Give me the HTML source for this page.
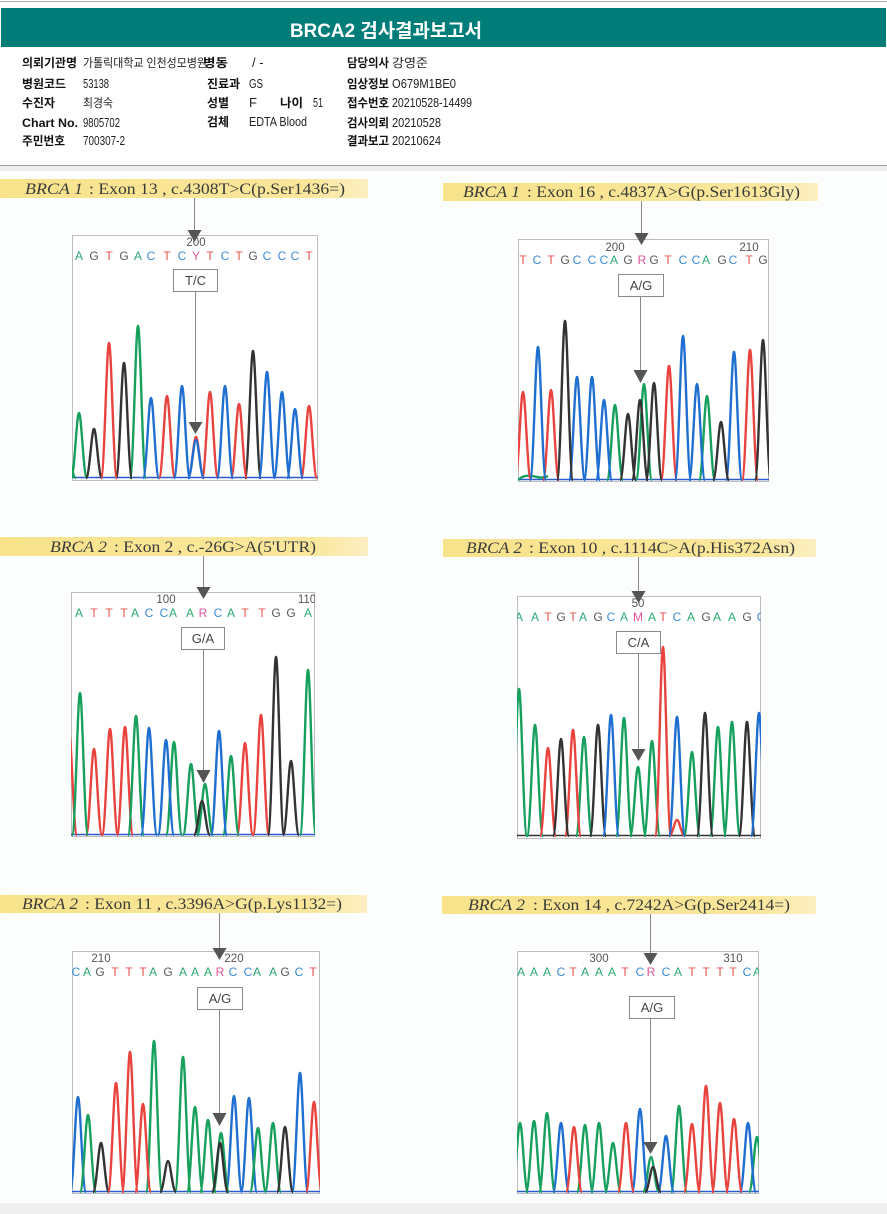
<!DOCTYPE html>
<html><head><meta charset="utf-8">
<style>
html,body{margin:0;padding:0;background:#fff;}
body{width:887px;height:1214px;overflow:hidden;}
svg{display:block;}
.kl{font-family:"Liberation Sans","Noto Sans CJK KR",sans-serif;font-size:12px;font-weight:bold;fill:#111;}
.kv{font-family:"Liberation Sans","Noto Sans CJK KR",sans-serif;font-size:12px;fill:#222;}
.kn{font-family:"Liberation Sans",sans-serif;font-size:13px;fill:#222;}
.lb{font-family:"Liberation Serif","Noto Serif CJK SC",serif;font-size:16px;fill:#3a3a3a;}
.lbi{font-style:italic;}
.seq{font-family:"Liberation Sans",sans-serif;font-size:12px;text-anchor:middle;}
.num{font-family:"Liberation Sans",sans-serif;font-size:11.5px;fill:#555;text-anchor:middle;}
.co{font-family:"Liberation Sans",sans-serif;font-size:13px;fill:#444;text-anchor:middle;}
.a{fill:#2aa870}.c{fill:#3a8ad6}.g{fill:#5a5a5a}.t{fill:#e4534e}.r{fill:#e0569a}
.pg{fill:none;stroke:#17a05d;stroke-width:2.4;stroke-linejoin:round}
.pr{fill:none;stroke:#e8433f;stroke-width:2.4;stroke-linejoin:round}
.pb{fill:none;stroke:#1f6fd1;stroke-width:2.4;stroke-linejoin:round}
.pk{fill:none;stroke:#333;stroke-width:2.4;stroke-linejoin:round}
.box{fill:#fff;stroke:#bdbdbd;stroke-width:1}
.cb{fill:#fff;stroke:#8a8a8a;stroke-width:1}
.ln{stroke:#888;stroke-width:1}
.tri{fill:#555}
</style></head>
<body>
<svg width="887" height="1214" viewBox="0 0 887 1214" xmlns="http://www.w3.org/2000/svg">
<defs>
<linearGradient id="yb" x1="0" x2="1" y1="0" y2="0">
<stop offset="0" stop-color="#f8e38c"/><stop offset="0.85" stop-color="#fae79c"/><stop offset="1" stop-color="#fcefc2"/>
</linearGradient>
<clipPath id="c1"><rect x="72" y="235" width="246" height="246"/></clipPath>
<clipPath id="c2"><rect x="518" y="239" width="251" height="243"/></clipPath>
<clipPath id="c3"><rect x="71" y="592" width="244" height="245"/></clipPath>
<clipPath id="c4"><rect x="517" y="596" width="244" height="243"/></clipPath>
<clipPath id="c5"><rect x="72" y="951" width="248" height="243"/></clipPath>
<clipPath id="c6"><rect x="517" y="951" width="242" height="243"/></clipPath>
</defs>

<!-- header -->
<rect x="0" y="0" width="887" height="166" fill="#fff"/>
<line x1="0" y1="1.5" x2="887" y2="1.5" stroke="#b0b0b0" stroke-width="1"/>
<rect x="1" y="8" width="885" height="39" fill="#007d78"/>
<text x="290" y="37" textLength="192" lengthAdjust="spacingAndGlyphs" style="font-family:'Liberation Sans','Noto Sans CJK KR',sans-serif;font-size:19px;font-weight:bold;fill:#fff">BRCA2 검사결과보고서</text>

<text class="kl" x="22" y="67" textLength="55" lengthAdjust="spacingAndGlyphs">의뢰기관명</text>
<text class="kv" x="83" y="67" textLength="124" lengthAdjust="spacingAndGlyphs">가톨릭대학교 인천성모병원</text>
<text class="kl" x="203" y="67" textLength="25" lengthAdjust="spacingAndGlyphs">병동</text>
<text class="kn" x="252" y="67">/ -</text>
<text class="kl" x="347" y="67" textLength="42" lengthAdjust="spacingAndGlyphs">담당의사</text>
<text class="kv" x="392" y="67" textLength="36" lengthAdjust="spacingAndGlyphs">강영준</text>

<text class="kl" x="22" y="88" textLength="44" lengthAdjust="spacingAndGlyphs">병원코드</text>
<text class="kn" x="83" y="88" textLength="26" lengthAdjust="spacingAndGlyphs">53138</text>
<text class="kl" x="207" y="88" textLength="33" lengthAdjust="spacingAndGlyphs">진료과</text>
<text class="kn" x="249" y="88" textLength="14" lengthAdjust="spacingAndGlyphs">GS</text>
<text class="kl" x="347" y="88" textLength="42" lengthAdjust="spacingAndGlyphs">임상정보</text>
<text class="kn" x="392" y="88" textLength="64" lengthAdjust="spacingAndGlyphs">O679M1BE0</text>

<text class="kl" x="22" y="107" textLength="33" lengthAdjust="spacingAndGlyphs">수진자</text>
<text class="kv" x="83" y="107" textLength="30" lengthAdjust="spacingAndGlyphs">최경숙</text>
<text class="kl" x="207" y="107" textLength="22" lengthAdjust="spacingAndGlyphs">성별</text>
<text class="kn" x="249" y="107">F</text>
<text class="kl" x="280" y="107" textLength="23" lengthAdjust="spacingAndGlyphs">나이</text>
<text class="kn" x="313" y="107" textLength="10" lengthAdjust="spacingAndGlyphs">51</text>
<text class="kl" x="347" y="107" textLength="42" lengthAdjust="spacingAndGlyphs">접수번호</text>
<text class="kn" x="392" y="107" textLength="80" lengthAdjust="spacingAndGlyphs">20210528-14499</text>

<text class="kl" x="22" y="127" textLength="56" lengthAdjust="spacingAndGlyphs">Chart No.</text>
<text class="kn" x="83" y="127" textLength="37" lengthAdjust="spacingAndGlyphs">9805702</text>
<text class="kl" x="207" y="126" textLength="22" lengthAdjust="spacingAndGlyphs">검체</text>
<text class="kn" x="249" y="126" textLength="58" lengthAdjust="spacingAndGlyphs">EDTA Blood</text>
<text class="kl" x="347" y="127" textLength="42" lengthAdjust="spacingAndGlyphs">검사의뢰</text>
<text class="kn" x="392" y="127" textLength="49" lengthAdjust="spacingAndGlyphs">20210528</text>

<text class="kl" x="22" y="145" textLength="43" lengthAdjust="spacingAndGlyphs">주민번호</text>
<text class="kn" x="83" y="145" textLength="42" lengthAdjust="spacingAndGlyphs">700307-2</text>
<text class="kl" x="347" y="145" textLength="42" lengthAdjust="spacingAndGlyphs">결과보고</text>
<text class="kn" x="392" y="145" textLength="49" lengthAdjust="spacingAndGlyphs">20210624</text>

<line x1="0" y1="165.5" x2="887" y2="165.5" stroke="#a0a0a0" stroke-width="1"/>
<rect x="0" y="166" width="887" height="5" fill="#eeeeee"/>
<rect x="0" y="171" width="887" height="1032" fill="#fcfdfd"/>
<rect x="0" y="1203" width="887" height="11" fill="#efefef"/>

<!-- ============ PANEL 1 ============ -->
<rect x="0" y="179" width="368" height="19" fill="url(#yb)"/>
<text class="lb lbi" x="25" y="194" textLength="58" lengthAdjust="spacingAndGlyphs">BRCA 1</text>
<text class="lb" x="89" y="194" textLength="256" lengthAdjust="spacingAndGlyphs">: Exon 13 , c.4308T&gt;C(p.Ser1436=)</text>
<rect class="box" x="72.5" y="235.5" width="245" height="245"/>
<line class="ln" x1="194.5" y1="198" x2="194.5" y2="231"/>
<polygon class="tri" points="187.5,230 201.5,230 194.5,242"/>
<text class="num" x="196" y="246">200</text>
<text class="seq" y="260"><tspan class="a" x="79">A</tspan><tspan class="g" x="94">G</tspan><tspan class="t" x="109">T</tspan><tspan class="g" x="124">G</tspan><tspan class="a" x="138">A</tspan><tspan class="c" x="151">C</tspan><tspan class="t" x="167">T</tspan><tspan class="c" x="182">C</tspan><tspan class="r" x="196">Y</tspan><tspan class="t" x="210">T</tspan><tspan class="c" x="225">C</tspan><tspan class="t" x="239">T</tspan><tspan class="g" x="253">G</tspan><tspan class="c" x="267">C</tspan><tspan class="c" x="282">C</tspan><tspan class="c" x="295">C</tspan><tspan class="t" x="309">T</tspan></text>
<rect class="cb" x="173.5" y="269.5" width="44" height="22"/>
<text class="co" x="195.5" y="285">T/C</text>
<line class="ln" x1="195.5" y1="292" x2="195.5" y2="423"/>
<g clip-path="url(#c1)">
<line x1="72" y1="477.5" x2="318" y2="477.5" stroke="#2a5bd0" stroke-width="1.5"/>
<path class="pg" d="M61,478m-1,0c3.5,0 5.5,-20 8,-20s4.5,20 8,20M72,478m-1,0c3.5,0 5.5,-65 8,-65s4.5,65 8,65M131,478m-1,0c3.5,0 5.5,-152 8,-152s4.5,152 8,152"/>
<path class="pk" d="M87,478m-1,0c3.5,0 5.5,-49 8,-49s4.5,49 8,49M117,478m-1,0c3.5,0 5.5,-115 8,-115s4.5,115 8,115M246,478m-1,0c3.5,0 5.5,-127 8,-127s4.5,127 8,127"/>
<path class="pr" d="M102,478m-1,0c3.5,0 5.5,-135 8,-135s4.5,135 8,135M160,478m-1,0c3.5,0 5.5,-82 8,-82s4.5,82 8,82M189,478m-1,0c3.5,0 5.5,-41 8,-41s4.5,41 8,41M203,478m-1,0c3.5,0 5.5,-86 8,-86s4.5,86 8,86M232,478m-1,0c3.5,0 5.5,-74 8,-74s4.5,74 8,74M302,478m-1,0c3.5,0 5.5,-72 8,-72s4.5,72 8,72"/>
<path class="pb" d="M144,478m-1,0c3.5,0 5.5,-80 8,-80s4.5,80 8,80M175,478m-1,0c3.5,0 5.5,-92 8,-92s4.5,92 8,92M189,478m-1,0c3.5,0 5.5,-38 8,-38s4.5,38 8,38M218,478m-1,0c3.5,0 5.5,-92 8,-92s4.5,92 8,92M260,478m-1,0c3.5,0 5.5,-106 8,-106s4.5,106 8,106M275,478m-1,0c3.5,0 5.5,-86 8,-86s4.5,86 8,86M288,478m-1,0c3.5,0 5.5,-69 8,-69s4.5,69 8,69"/>
</g>
<polygon class="tri" points="188.5,422 202.5,422 195.5,434"/>

<!-- ============ PANEL 2 ============ -->
<rect x="443" y="183" width="375" height="18" fill="url(#yb)"/>
<text class="lb lbi" x="463" y="197" textLength="57" lengthAdjust="spacingAndGlyphs">BRCA 1</text>
<text class="lb" x="527" y="197" textLength="273" lengthAdjust="spacingAndGlyphs">: Exon 16 , c.4837A&gt;G(p.Ser1613Gly)</text>
<rect class="box" x="518.5" y="239.5" width="250" height="242"/>
<line class="ln" x1="641.5" y1="201" x2="641.5" y2="234"/>
<polygon class="tri" points="634.5,233 648.5,233 641.5,245"/>
<text class="num" x="615" y="251">200</text>
<text class="num" x="749" y="251">210</text>
<text class="seq" y="264"><tspan class="t" x="523">T</tspan><tspan class="c" x="537">C</tspan><tspan class="t" x="551">T</tspan><tspan class="g" x="565">G</tspan><tspan class="c" x="577">C</tspan><tspan class="c" x="592">C</tspan><tspan class="c" x="604">C</tspan><tspan class="a" x="614">A</tspan><tspan class="g" x="628">G</tspan><tspan class="r" x="642">R</tspan><tspan class="g" x="654">G</tspan><tspan class="t" x="668">T</tspan><tspan class="c" x="683">C</tspan><tspan class="c" x="696">C</tspan><tspan class="a" x="706">A</tspan><tspan class="g" x="722">G</tspan><tspan class="c" x="733">C</tspan><tspan class="t" x="749">T</tspan><tspan class="g" x="763">G</tspan></text>
<rect class="cb" x="618.5" y="274.5" width="45" height="22"/>
<text class="co" x="641" y="290">A/G</text>
<line class="ln" x1="640.5" y1="297" x2="640.5" y2="371"/>
<g clip-path="url(#c2)">
<line x1="518" y1="479.5" x2="769" y2="479.5" stroke="#2a5bd0" stroke-width="1.5"/>
<path class="pg" d="M518,480c3,-3 8,-5 14,-4s10,3 16,0M608,480m-1,0c3.5,0 5.5,-75 8,-75s4.5,75 8,75M637,480m-1,0c3.5,0 5.5,-96 8,-96s4.5,96 8,96M700,480m-1,0c3.5,0 5.5,-84 8,-84s4.5,84 8,84"/>
<path class="pr" d="M516,480m-1,0c3.5,0 5.5,-88 8,-88s4.5,88 8,88M544,480m-1,0c3.5,0 5.5,-90 8,-90s4.5,90 8,90M662,480m-1,0c3.5,0 5.5,-114 8,-114s4.5,114 8,114M743,480m-1,0c3.5,0 5.5,-130 8,-130s4.5,130 8,130"/>
<path class="pb" d="M531,480m-1,0c3.5,0 5.5,-133 8,-133s4.5,133 8,133M570,480m-1,0c3.5,0 5.5,-103 8,-103s4.5,103 8,103M585,480m-1,0c3.5,0 5.5,-103 8,-103s4.5,103 8,103M597,480m-1,0c3.5,0 5.5,-80 8,-80s4.5,80 8,80M676,480m-1,0c3.5,0 5.5,-144 8,-144s4.5,144 8,144M690,480m-1,0c3.5,0 5.5,-96 8,-96s4.5,96 8,96M727,480m-1,0c3.5,0 5.5,-128 8,-128s4.5,128 8,128"/>
<path class="pk" d="M558,480m-1,0c3.5,0 5.5,-159 8,-159s4.5,159 8,159M621,480m-1,0c3.5,0 5.5,-66 8,-66s4.5,66 8,66M633,480m-1,0c3.5,0 5.5,-80 8,-80s4.5,80 8,80M647,480m-1,0c3.5,0 5.5,-97 8,-97s4.5,97 8,97M714,480m-1,0c3.5,0 5.5,-58 8,-58s4.5,58 8,58M756,480m-1,0c3.5,0 5.5,-140 8,-140s4.5,140 8,140"/>
</g>
<polygon class="tri" points="633.5,370 647.5,370 640.5,383"/>

<!-- ============ PANEL 3 ============ -->
<rect x="0" y="537" width="368" height="19" fill="url(#yb)"/>
<text class="lb lbi" x="50" y="552" textLength="57" lengthAdjust="spacingAndGlyphs">BRCA 2</text>
<text class="lb" x="114" y="552" textLength="202" lengthAdjust="spacingAndGlyphs">: Exon 2 , c.-26G&gt;A(5'UTR)</text>
<rect class="box" x="71.5" y="592.5" width="243" height="244"/>
<line class="ln" x1="203.5" y1="556" x2="203.5" y2="588"/>
<polygon class="tri" points="196.5,587 210.5,587 203.5,599"/>
<text class="num" x="166" y="603">100</text>
<g clip-path="url(#c3)"><text class="num" x="307" y="603">110</text></g>
<text class="seq" y="617"><tspan class="a" x="79">A</tspan><tspan class="t" x="94">T</tspan><tspan class="t" x="109">T</tspan><tspan class="t" x="124">T</tspan><tspan class="a" x="135">A</tspan><tspan class="c" x="149">C</tspan><tspan class="c" x="164">C</tspan><tspan class="a" x="173">A</tspan><tspan class="a" x="190">A</tspan><tspan class="r" x="203">R</tspan><tspan class="c" x="218">C</tspan><tspan class="a" x="231">A</tspan><tspan class="t" x="245">T</tspan><tspan class="t" x="262">T</tspan><tspan class="g" x="276">G</tspan><tspan class="g" x="291">G</tspan><tspan class="a" x="308">A</tspan></text>
<rect class="cb" x="181.5" y="627.5" width="43" height="22"/>
<text class="co" x="203" y="643">G/A</text>
<line class="ln" x1="203.5" y1="650" x2="203.5" y2="771"/>
<g clip-path="url(#c3)">
<line x1="71" y1="834.5" x2="315" y2="834.5" stroke="#2a5bd0" stroke-width="1.5"/>
<path class="pr" d="M62,835m-1,0c3.5,0 5.5,-103 8,-103s4.5,103 8,103M87,835m-1,0c3.5,0 5.5,-86 8,-86s4.5,86 8,86M103,835m-1,0c3.5,0 5.5,-106 8,-106s4.5,106 8,106M118,835m-1,0c3.5,0 5.5,-108 8,-108s4.5,108 8,108M238,835m-1,0c3.5,0 5.5,-92 8,-92s4.5,92 8,92M254,835m-1,0c3.5,0 5.5,-120 8,-120s4.5,120 8,120"/>
<path class="pg" d="M73,835m-1,0c3.5,0 5.5,-142 8,-142s4.5,142 8,142M129,835m-1,0c3.5,0 5.5,-119 8,-119s4.5,119 8,119M167,835m-1,0c3.5,0 5.5,-93 8,-93s4.5,93 8,93M184,835m-1,0c3.5,0 5.5,-71 8,-71s4.5,71 8,71M198,835m-1,0c3.5,0 5.5,-51 8,-51s4.5,51 8,51M224,835m-1,0c3.5,0 5.5,-79 8,-79s4.5,79 8,79M301,835m-1,0c3.5,0 5.5,-165 8,-165s4.5,165 8,165"/>
<path class="pb" d="M142,835m-1,0c3.5,0 5.5,-107 8,-107s4.5,107 8,107M159,835m-1,0c3.5,0 5.5,-95 8,-95s4.5,95 8,95M212,835m-1,0c3.5,0 5.5,-104 8,-104s4.5,104 8,104"/>
<path class="pk" d="M195,835m-1,0c3.5,0 5.5,-34 8,-34s4.5,34 8,34M269,835m-1,0c3.5,0 5.5,-178 8,-178s4.5,178 8,178M284,835m-1,0c3.5,0 5.5,-74 8,-74s4.5,74 8,74"/>
</g>
<polygon class="tri" points="196.5,770 210.5,770 203.5,783"/>

<!-- ============ PANEL 4 ============ -->
<rect x="443" y="539" width="373" height="18" fill="url(#yb)"/>
<text class="lb lbi" x="466" y="553" textLength="56" lengthAdjust="spacingAndGlyphs">BRCA 2</text>
<text class="lb" x="529" y="553" textLength="266" lengthAdjust="spacingAndGlyphs">: Exon 10 , c.1114C&gt;A(p.His372Asn)</text>
<rect class="box" x="517.5" y="596.5" width="243" height="242"/>
<line class="ln" x1="638.5" y1="557" x2="638.5" y2="592"/>
<polygon class="tri" points="631.5,591 645.5,591 638.5,603"/>
<text class="num" x="638" y="607">50</text>
<g clip-path="url(#c4)">
<text class="seq" y="621"><tspan class="a" x="519">A</tspan><tspan class="a" x="535">A</tspan><tspan class="t" x="548">T</tspan><tspan class="g" x="561">G</tspan><tspan class="t" x="573">T</tspan><tspan class="a" x="583">A</tspan><tspan class="g" x="598">G</tspan><tspan class="c" x="611">C</tspan><tspan class="a" x="624">A</tspan><tspan class="r" x="638">M</tspan><tspan class="a" x="652">A</tspan><tspan class="t" x="663">T</tspan><tspan class="c" x="677">C</tspan><tspan class="a" x="691">A</tspan><tspan class="g" x="706">G</tspan><tspan class="a" x="717">A</tspan><tspan class="a" x="732">A</tspan><tspan class="g" x="747">G</tspan><tspan class="c" x="761">C</tspan></text>
</g>
<rect class="cb" x="616.5" y="631.5" width="44" height="22"/>
<text class="co" x="638.5" y="647">C/A</text>
<line class="ln" x1="638.5" y1="654" x2="638.5" y2="750"/>
<g clip-path="url(#c4)">
<line x1="517" y1="835.5" x2="761" y2="835.5" stroke="#333" stroke-width="1.5"/>
<path class="pg" d="M512,836m-1,0c3.5,0 5.5,-147 8,-147s4.5,147 8,147M528,836m-1,0c3.5,0 5.5,-111 8,-111s4.5,111 8,111M577,836m-1,0c3.5,0 5.5,-99 8,-99s4.5,99 8,99M617,836m-1,0c3.5,0 5.5,-118 8,-118s4.5,118 8,118M631,836m-1,0c3.5,0 5.5,-69 8,-69s4.5,69 8,69M645,836m-1,0c3.5,0 5.5,-95 8,-95s4.5,95 8,95M685,836m-1,0c3.5,0 5.5,-84 8,-84s4.5,84 8,84M711,836m-1,0c3.5,0 5.5,-109 8,-109s4.5,109 8,109M725,836m-1,0c3.5,0 5.5,-114 8,-114s4.5,114 8,114"/>
<path class="pr" d="M541,836m-1,0c3.5,0 5.5,-88 8,-88s4.5,88 8,88M566,836m-1,0c3.5,0 5.5,-106 8,-106s4.5,106 8,106M656,836m-1,0c3.5,0 5.5,-189 8,-189s4.5,189 8,189M670,836m-1,0c3.5,0 5.5,-16 8,-16s4.5,16 8,16"/>
<path class="pk" d="M554,836m-1,0c3.5,0 5.5,-97 8,-97s4.5,97 8,97M591,836m-1,0c3.5,0 5.5,-111 8,-111s4.5,111 8,111M698,836m-1,0c3.5,0 5.5,-123 8,-123s4.5,123 8,123M740,836m-1,0c3.5,0 5.5,-114 8,-114s4.5,114 8,114"/>
<path class="pb" d="M604,836m-1,0c3.5,0 5.5,-121 8,-121s4.5,121 8,121M670,836m-1,0c3.5,0 5.5,-119 8,-119s4.5,119 8,119M752,836m-1,0c3.5,0 5.5,-123 8,-123s4.5,123 8,123"/>
</g>
<polygon class="tri" points="631.5,749 645.5,749 638.5,761"/>

<!-- ============ PANEL 5 ============ -->
<rect x="0" y="895" width="367" height="18" fill="url(#yb)"/>
<text class="lb lbi" x="22" y="909" textLength="56" lengthAdjust="spacingAndGlyphs">BRCA 2</text>
<text class="lb" x="85" y="909" textLength="257" lengthAdjust="spacingAndGlyphs">: Exon 11 , c.3396A&gt;G(p.Lys1132=)</text>
<rect class="box" x="72.5" y="951.5" width="247" height="242"/>
<line class="ln" x1="219.5" y1="913" x2="219.5" y2="949"/>
<polygon class="tri" points="212.5,948 226.5,948 219.5,960"/>
<text class="num" x="101" y="962">210</text>
<text class="num" x="234" y="962">220</text>
<text class="seq" y="976"><tspan class="c" x="76">C</tspan><tspan class="a" x="87">A</tspan><tspan class="g" x="100">G</tspan><tspan class="t" x="115">T</tspan><tspan class="t" x="129">T</tspan><tspan class="t" x="143">T</tspan><tspan class="a" x="153">A</tspan><tspan class="g" x="168">G</tspan><tspan class="a" x="183">A</tspan><tspan class="a" x="195">A</tspan><tspan class="a" x="208">A</tspan><tspan class="r" x="220">R</tspan><tspan class="c" x="233">C</tspan><tspan class="c" x="248">C</tspan><tspan class="a" x="257">A</tspan><tspan class="a" x="273">A</tspan><tspan class="g" x="285">G</tspan><tspan class="c" x="299">C</tspan><tspan class="t" x="313">T</tspan></text>
<rect class="cb" x="197.5" y="987.5" width="45" height="22"/>
<text class="co" x="220" y="1003">A/G</text>
<line class="ln" x1="219.5" y1="1010" x2="219.5" y2="1114"/>
<g clip-path="url(#c5)">
<line x1="72" y1="1191.5" x2="320" y2="1191.5" stroke="#2a5bd0" stroke-width="1.5"/>
<path class="pb" d="M71,1192m-1,0c3.5,0 5.5,-95 8,-95s4.5,95 8,95M227,1192m-1,0c3.5,0 5.5,-96 8,-96s4.5,96 8,96M242,1192m-1,0c3.5,0 5.5,-94 8,-94s4.5,94 8,94M293,1192m-1,0c3.5,0 5.5,-119 8,-119s4.5,119 8,119"/>
<path class="pg" d="M81,1192m-1,0c3.5,0 5.5,-77 8,-77s4.5,77 8,77M147,1192m-1,0c3.5,0 5.5,-151 8,-151s4.5,151 8,151M176,1192m-1,0c3.5,0 5.5,-135 8,-135s4.5,135 8,135M188,1192m-1,0c3.5,0 5.5,-85 8,-85s4.5,85 8,85M201,1192m-1,0c3.5,0 5.5,-72 8,-72s4.5,72 8,72M214,1192m-1,0c3.5,0 5.5,-59 8,-59s4.5,59 8,59M251,1192m-1,0c3.5,0 5.5,-64 8,-64s4.5,64 8,64M266,1192m-1,0c3.5,0 5.5,-69 8,-69s4.5,69 8,69"/>
<path class="pk" d="M94,1192m-1,0c3.5,0 5.5,-49 8,-49s4.5,49 8,49M161,1192m-1,0c3.5,0 5.5,-31 8,-31s4.5,31 8,31M213,1192m-1,0c3.5,0 5.5,-49 8,-49s4.5,49 8,49M278,1192m-1,0c3.5,0 5.5,-65 8,-65s4.5,65 8,65"/>
<path class="pr" d="M109,1192m-1,0c3.5,0 5.5,-109 8,-109s4.5,109 8,109M123,1192m-1,0c3.5,0 5.5,-140 8,-140s4.5,140 8,140M136,1192m-1,0c3.5,0 5.5,-88 8,-88s4.5,88 8,88M307,1192m-1,0c3.5,0 5.5,-90 8,-90s4.5,90 8,90"/>
</g>
<polygon class="tri" points="212.5,1113 226.5,1113 219.5,1126"/>

<!-- ============ PANEL 6 ============ -->
<rect x="442" y="896" width="374" height="18" fill="url(#yb)"/>
<text class="lb lbi" x="468" y="910" textLength="57" lengthAdjust="spacingAndGlyphs">BRCA 2</text>
<text class="lb" x="533" y="910" textLength="257" lengthAdjust="spacingAndGlyphs">: Exon 14 , c.7242A&gt;G(p.Ser2414=)</text>
<rect class="box" x="517.5" y="951.5" width="241" height="242"/>
<line class="ln" x1="650.5" y1="914" x2="650.5" y2="954"/>
<polygon class="tri" points="643.5,953 657.5,953 650.5,965"/>
<text class="num" x="599" y="962">300</text>
<text class="num" x="733" y="962">310</text>
<g clip-path="url(#c6)">
<text class="seq" y="976"><tspan class="a" x="521">A</tspan><tspan class="a" x="534">A</tspan><tspan class="a" x="547">A</tspan><tspan class="c" x="561">C</tspan><tspan class="t" x="573">T</tspan><tspan class="a" x="585">A</tspan><tspan class="a" x="599">A</tspan><tspan class="a" x="612">A</tspan><tspan class="t" x="625">T</tspan><tspan class="c" x="640">C</tspan><tspan class="r" x="651">R</tspan><tspan class="c" x="666">C</tspan><tspan class="a" x="678">A</tspan><tspan class="t" x="692">T</tspan><tspan class="t" x="706">T</tspan><tspan class="t" x="720">T</tspan><tspan class="t" x="733">T</tspan><tspan class="c" x="747">C</tspan><tspan class="a" x="757">A</tspan></text>
</g>
<rect class="cb" x="629.5" y="996.5" width="45" height="22"/>
<text class="co" x="652" y="1012">A/G</text>
<line class="ln" x1="650.5" y1="1019" x2="650.5" y2="1143"/>
<g clip-path="url(#c6)">
<line x1="517" y1="1191.5" x2="759" y2="1191.5" stroke="#2a5bd0" stroke-width="1.5"/>
<path class="pg" d="M513,1192m-1,0c3.5,0 5.5,-69 8,-69s4.5,69 8,69M527,1192m-1,0c3.5,0 5.5,-71 8,-71s4.5,71 8,71M540,1192m-1,0c3.5,0 5.5,-79 8,-79s4.5,79 8,79M578,1192m-1,0c3.5,0 5.5,-67 8,-67s4.5,67 8,67M592,1192m-1,0c3.5,0 5.5,-69 8,-69s4.5,69 8,69M606,1192m-1,0c3.5,0 5.5,-49 8,-49s4.5,49 8,49M644,1192m-1,0c3.5,0 5.5,-35 8,-35s4.5,35 8,35M672,1192m-1,0c3.5,0 5.5,-86 8,-86s4.5,86 8,86M750,1192m-1,0c3.5,0 5.5,-55 8,-55s4.5,55 8,55"/>
<path class="pb" d="M554,1192m-1,0c3.5,0 5.5,-69 8,-69s4.5,69 8,69M633,1192m-1,0c3.5,0 5.5,-83 8,-83s4.5,83 8,83M659,1192m-1,0c3.5,0 5.5,-56 8,-56s4.5,56 8,56M741,1192m-1,0c3.5,0 5.5,-69 8,-69s4.5,69 8,69"/>
<path class="pr" d="M567,1192m-1,0c3.5,0 5.5,-65 8,-65s4.5,65 8,65M619,1192m-1,0c3.5,0 5.5,-69 8,-69s4.5,69 8,69M685,1192m-1,0c3.5,0 5.5,-68 8,-68s4.5,68 8,68M699,1192m-1,0c3.5,0 5.5,-106 8,-106s4.5,106 8,106M713,1192m-1,0c3.5,0 5.5,-89 8,-89s4.5,89 8,89M727,1192m-1,0c3.5,0 5.5,-73 8,-73s4.5,73 8,73"/>
<path class="pk" d="M646,1192m-1,0c3.5,0 5.5,-25 8,-25s4.5,25 8,25"/>
</g>
<polygon class="tri" points="643.5,1142 657.5,1142 650.5,1154"/>
</svg>
</body></html>
